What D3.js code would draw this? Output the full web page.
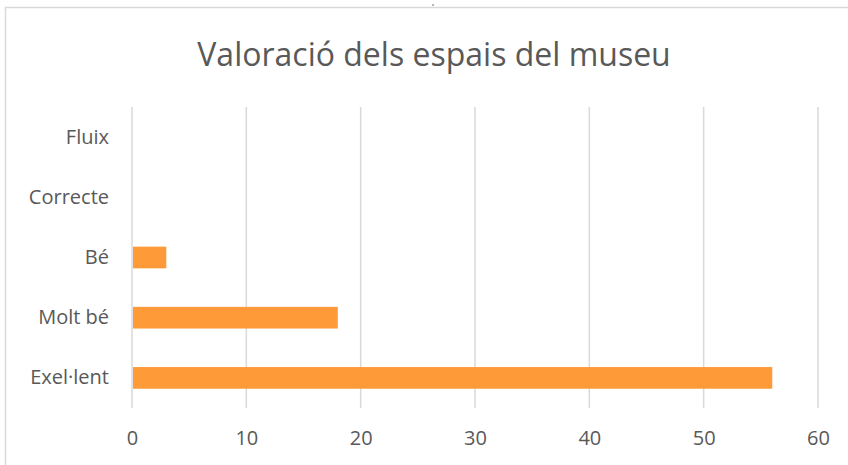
<!DOCTYPE html>
<meta charset="utf-8">
<style>
body { margin: 0; background: #fff; }
text { font-family: "Open Sans", sans-serif; fill: #595959; }
.grid line { stroke: #d9d9d9; stroke-width: 1.5px; }
.axis path, .axis line { display: none; }
</style>
<svg width="848" height="465"></svg>
<script src="https://d3js.org/d3.v7.min.js"></script>
<script>

var categories = ["Fluix", "Correcte", "Bé", "Molt bé", "Exel·lent"];
var values = [0, 0, 3, 18, 56];
var ticks = [0, 10, 20, 30, 40, 50, 60];
var title = "Valoració dels espais del museu";

var svg = d3.select("svg");

// chart frame, cut off at right and bottom like the picture
svg.append("rect")
    .attr("x", 5.5).attr("y", 7.5)
    .attr("width", 900).attr("height", 500)
    .style("fill", "#fff").style("stroke", "#d9d9d9").style("stroke-width", 1.5);

svg.append("circle").attr("cx", 433).attr("cy", 5).attr("r", 0.8).style("fill", "#595959");

svg.append("text")
    .attr("x", 434).attr("y", 66)
    .attr("text-anchor", "middle")
    .style("font-size", "32px")
    .text(title);

var x = d3.scaleLinear().domain([0, 60]).range([132, 818]);
var y = d3.scaleBand().domain(categories).range([107, 408]).paddingInner(0.64).paddingOuter(0.32);

svg.append("g").attr("class", "grid")
  .selectAll("line")
  .data(ticks)
  .enter().append("line")
    .attr("x1", function(d) { return x(d); })
    .attr("x2", function(d) { return x(d); })
    .attr("y1", 107).attr("y2", 408);

svg.selectAll(".bar")
  .data(values)
  .enter().append("rect")
    .attr("class", "bar")
    .attr("x", x(0) + 1)
    .attr("y", function(d, i) { return y(categories[i]); })
    .attr("width", function(d) { return d > 0 ? x(d) - x(0) - 1 : 0; })
    .attr("height", y.bandwidth())
    .style("fill", "#ff9a38");

svg.append("g").attr("class", "axis")
    .attr("transform", "translate(0,408)")
    .call(d3.axisBottom(x).tickValues(ticks).tickSize(0).tickPadding(23))
  .selectAll("text")
    .style("font-size", "20px");

svg.append("g").attr("class", "axis")
    .attr("transform", "translate(132,0)")
    .call(d3.axisLeft(y).tickSize(0).tickPadding(23))
  .selectAll("text")
    .style("font-size", "20px");

</script>
